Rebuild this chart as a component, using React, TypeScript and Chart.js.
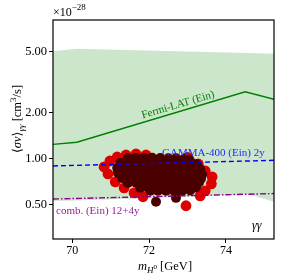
import React, { useEffect, useRef } from "react";
import { Chart, registerables } from "chart.js";

Chart.register(...registerables);

// ---- data ----
const massTicks = [70, 72, 74];
const sigmaTicks = [0.5, 1, 2, 5];

const bandMass = [69.5, 70.1, 74.6, 75.25];
const bandUpper = [5.0, 5.2, 4.88, 4.83];
const bandLower = [0.53, 0.535, 0.585, 0.525];

const fermiMass = [69.5, 70.12, 74.5, 75.25];
const fermiSigma = [1.24, 1.28, 2.73, 2.44];

const gammaMass = [69.5, 75.25];
const gammaSigma = [0.897, 0.976];

const combMass = [69.5, 75.25];
const combSigma = [0.546, 0.593];

const darkMass = [
  71.45, 71.66, 71.87, 72.08, 72.29, 72.5, 72.7, 72.91, 73.05,
  71.25, 71.45, 71.66, 71.87, 72.08, 72.29, 72.5, 72.7, 72.91, 73.12, 73.24,
  71.17, 71.35, 71.56, 71.77, 71.97, 72.18, 72.39, 72.6, 72.81, 73.02, 73.22, 73.33,
  71.19, 71.4, 71.61, 71.82, 72.03, 72.23, 72.44, 72.65, 72.86, 73.07, 73.28, 73.38,
  71.3, 71.5, 71.71, 71.92, 72.13, 72.34, 72.55, 72.76, 72.96, 73.17, 73.35,
  71.45, 71.66, 71.87, 72.08, 72.29, 72.5, 72.7, 72.91, 73.12, 73.3,
  71.77, 71.97, 72.18, 72.39, 72.6, 72.81, 73.02, 73.22,
  72.03, 72.23, 72.44, 72.65, 72.86, 73.07,
  72.18, 72.7,
];
const darkSigma = [
  1.01, 1.012, 1.015, 1.013, 1.01, 1.008, 1.005, 0.995, 0.985,
  0.938, 0.94, 0.942, 0.94, 0.938, 0.94, 0.938, 0.936, 0.934, 0.93, 0.92,
  0.87, 0.872, 0.87, 0.868, 0.87, 0.871, 0.87, 0.868, 0.87, 0.866, 0.862, 0.855,
  0.808, 0.81, 0.808, 0.806, 0.808, 0.809, 0.808, 0.806, 0.808, 0.805, 0.8, 0.79,
  0.75, 0.752, 0.75, 0.748, 0.75, 0.751, 0.75, 0.748, 0.75, 0.746, 0.74,
  0.696, 0.698, 0.696, 0.694, 0.696, 0.697, 0.696, 0.694, 0.692, 0.7,
  0.646, 0.647, 0.646, 0.645, 0.646, 0.647, 0.646, 0.65,
  0.618, 0.619, 0.618, 0.617, 0.618, 0.62,
  0.524, 0.556,
];

const redMass = [
  70.83, 70.93, 70.98, 71.17, 71.4, 71.66, 71.92,
  73.0, 73.28, 73.46, 73.64, 73.62, 73.46, 73.33,
  72.96, 71.84, 71.61, 71.35, 71.12,
];
const redSigma = [
  0.884, 0.796, 0.966, 1.026, 1.057, 1.073, 1.057,
  1.02, 0.924, 0.833, 0.761, 0.686, 0.618, 0.573,
  0.494, 0.565, 0.599, 0.646, 0.706,
];

const serif = '"Liberation Serif", "DejaVu Serif", serif';

type Run = { t: string; size: number; italic?: boolean; dy?: number };

function drawRuns(ctx: CanvasRenderingContext2D, runs: Run[], x: number, y: number, align: "left" | "center") {
  ctx.textBaseline = "alphabetic";
  ctx.textAlign = "left";
  const widths = runs.map((r) => {
    ctx.font = `${r.italic ? "italic " : ""}${r.size}px ${serif}`;
    return ctx.measureText(r.t).width;
  });
  const total = widths.reduce((a, b) => a + b, 0);
  let cx = align === "center" ? x - total / 2 : x;
  runs.forEach((r, i) => {
    ctx.font = `${r.italic ? "italic " : ""}${r.size}px ${serif}`;
    ctx.fillText(r.t, cx, y + (r.dy || 0));
    cx += widths[i];
  });
}

const textPlugin = {
  id: "texts",
  afterDatasetsDraw(chart: any) {
    const { ctx, chartArea } = chart;
    ctx.save();
    ctx.strokeStyle = "#000";
    ctx.lineWidth = 1.2;
    ctx.strokeRect(chartArea.left, chartArea.top, chartArea.right - chartArea.left, chartArea.bottom - chartArea.top);
    ctx.restore();
  },
  afterDraw(chart: any) {
    const { ctx } = chart;
    ctx.save();
    ctx.fillStyle = "#008000";
    ctx.save();
    ctx.translate(178, 105);
    ctx.rotate((-16.5 * Math.PI) / 180);
    ctx.font = `11px ${serif}`;
    ctx.textAlign = "center";
    ctx.textBaseline = "middle";
    ctx.fillText("Fermi-LAT (Ein)", 0, 0);
    ctx.restore();

    ctx.fillStyle = "#1a2cff";
    drawRuns(ctx, [{ t: "GAMMA-400 (Ein) 2y", size: 11 }], 162, 156, "left");
    ctx.fillStyle = "#9a1a9a";
    drawRuns(ctx, [{ t: "comb. (Ein) 12+4y", size: 11 }], 56, 214, "left");
    ctx.fillStyle = "#000";
    drawRuns(ctx, [{ t: "γγ", size: 12, italic: true }], 252, 229, "left");

    drawRuns(ctx, [{ t: "×10", size: 12 }, { t: "−28", size: 9, dy: -6 }], 53, 16, "left");

    drawRuns(
      ctx,
      [
        { t: "m", size: 12.5, italic: true },
        { t: "H", size: 9, italic: true, dy: 2.5 },
        { t: "0", size: 7, dy: -1.5 },
        { t: " [GeV]", size: 12.5 },
      ],
      165,
      270,
      "center"
    );

    ctx.save();
    ctx.translate(21, 119);
    ctx.rotate(-Math.PI / 2);
    drawRuns(
      ctx,
      [
        { t: "⟨", size: 12.5 },
        { t: "σv", size: 12.5, italic: true },
        { t: "⟩", size: 12.5 },
        { t: "γγ", size: 9, italic: true, dy: 3 },
        { t: " [cm", size: 12.5 },
        { t: "3", size: 9, dy: -5 },
        { t: "/s]", size: 12.5 },
      ],
      0,
      0,
      "center"
    );
    ctx.restore();
    ctx.restore();
  },
};

const pts = (xs: number[], ys: number[]) => xs.map((x, i) => ({ x, y: ys[i] }));

export default function App() {
  const ref = useRef<HTMLCanvasElement | null>(null);
  useEffect(() => {
    if (!ref.current) return;
    const chart = new Chart(ref.current, {
      type: "line",
      data: {
        datasets: [
          {
            data: pts(gammaMass, gammaSigma),
            borderColor: "#0000ff",
            backgroundColor: "#0000ff",
            borderWidth: 1.4,
            borderDash: [5, 3],
            pointRadius: 0,
            fill: false,
            order: 0,
          },
          {
            data: pts(combMass, combSigma),
            borderColor: "#8b008b",
            backgroundColor: "#8b008b",
            borderWidth: 1.4,
            borderDash: [6, 2, 1.5, 2],
            pointRadius: 0,
            fill: false,
            order: 1,
          },
          {
            data: pts(darkMass, darkSigma),
            showLine: false,
            borderColor: "#4b0000",
            backgroundColor: "#4b0000",
            pointRadius: 5,
            pointBorderWidth: 0,
            pointBackgroundColor: "#4b0000",
            pointBorderColor: "#4b0000",
            order: 2,
          },
          {
            data: pts(redMass, redSigma),
            showLine: false,
            borderColor: "#dc0000",
            backgroundColor: "#dc0000",
            pointRadius: 5.4,
            pointBorderWidth: 0,
            pointBackgroundColor: "#dc0000",
            pointBorderColor: "#dc0000",
            order: 3,
          },
          {
            data: pts(fermiMass, fermiSigma),
            borderColor: "#008000",
            backgroundColor: "#008000",
            borderWidth: 1.4,
            pointRadius: 0,
            fill: false,
            order: 4,
          },
          {
            data: pts(bandMass, bandUpper),
            borderWidth: 0,
            borderColor: "rgba(0,0,0,0)",
            backgroundColor: "rgba(0,128,0,0.2)",
            pointRadius: 0,
            fill: "+1",
            order: 5,
          },
          {
            data: pts(bandMass, bandLower),
            borderWidth: 0,
            borderColor: "rgba(0,0,0,0)",
            backgroundColor: "rgba(0,0,0,0)",
            pointRadius: 0,
            fill: false,
            order: 6,
          },
        ],
      },
      options: {
        animation: false,
        responsive: false,
        devicePixelRatio: 1,
        layout: { padding: { top: 20, right: 22, left: 0, bottom: 0 } },
        plugins: { legend: { display: false }, tooltip: { enabled: false } },
        scales: {
          x: {
            type: "linear",
            min: 69.5,
            max: 75.25,
            afterBuildTicks: (s: any) => {
              s.ticks = massTicks.map((v) => ({ value: v }));
            },
            afterFit: (s: any) => {
              s.height = 38;
            },
            ticks: {
              font: { family: serif, size: 12 },
              color: "#000",
              padding: 1,
              maxRotation: 0,
              callback: (v: any) => String(v),
            },
            grid: { drawOnChartArea: false, drawTicks: true, tickLength: 4, color: "#000", lineWidth: 1 },
            border: { display: false },
          },
          y: {
            type: "logarithmic",
            min: 0.3,
            max: 8,
            afterBuildTicks: (s: any) => {
              s.ticks = sigmaTicks.map((v) => ({ value: v }));
            },
            afterFit: (s: any) => {
              s.width = 53;
            },
            ticks: {
              font: { family: serif, size: 12.5 },
              color: "#000",
              padding: 2,
              callback: (v: any) => Number(v).toFixed(2),
            },
            grid: { drawOnChartArea: false, drawTicks: true, tickLength: 4, color: "#000", lineWidth: 1 },
            border: { display: false },
          },
        },
      },
      plugins: [textPlugin],
    } as any);
    return () => chart.destroy();
  }, []);
  return (
    <div style={{ position: "absolute", left: 0, top: 0, width: 296, height: 277, background: "#fff" }}>
      <canvas ref={ref} width={296} height={277} style={{ width: 296, height: 277 }} />
    </div>
  );
}
